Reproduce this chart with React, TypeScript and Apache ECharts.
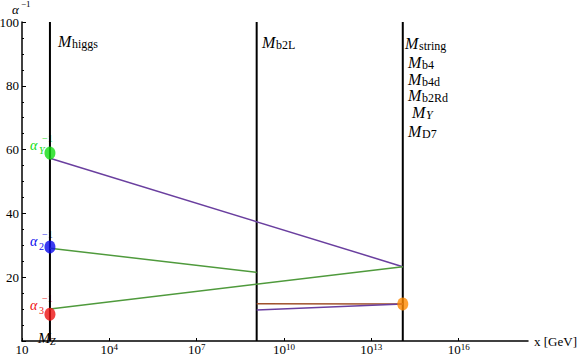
import React, { useEffect, useRef } from "react";
import * as echarts from "echarts";

// Energy scales (GeV) where vertical lines are drawn
const scaleLabels = ["higgs", "b2L", "string"];
const scaleEnergies = [91.2, 1.15e9, 1.2e14];

// x-axis range (GeV) and labelled decades (exponents)
const xMinGeV = 10;
const xMaxGeV = 2.4e18;
const xLabelExponents = [1, 4, 7, 10, 13, 16];

// Inverse couplings at the low scale (dots)
const lowScaleLabels = ["Y", "2", "3"];
const lowScaleValues = [58.9, 29.5, 8.4];
const lowScaleColors = ["#11dd11", "#0a0aee", "#ee1111"];

// Running lines
const alphaYEnergies = [91.2, 1.2e14];
const alphaYValues = [57.3, 23.3];
const alpha2Energies = [91.2, 1.15e9];
const alpha2Values = [29.1, 21.5];
const alpha3Energies = [91.2, 1.2e14];
const alpha3Values = [10.0, 23.3];
const brownEnergies = [1.15e9, 1.2e14];
const brownValues = [11.7, 11.6];
const lowPurpleEnergies = [1.15e9, 1.2e14];
const lowPurpleValues = [9.7, 11.6];

// String-scale coupling (orange dot)
const stringEnergy = 1.2e14;
const stringValue = 11.6;

// Right-hand stack of scale labels
const stackSubs = ["string", "b4", "b4d", "b2Rd", "Y", "D7"];

const FONT = "Liberation Serif, DejaVu Serif, serif";
const PURPLE = "#6a3f9f";
const GREEN = "#4f9a3c";
const BROWN = "#a0522d";
const ORANGE = "#ff8a00";

const lg = (e: number) => Math.log10(e);
const pair = (xs: number[], ys: number[]) => xs.map((x, i) => [lg(x), ys[i]]);

function mLabel(x: number, base: number, sub: string, subItalic = false, fill = "#000") {
  return {
    type: "group",
    x,
    y: 0,
    children: [
      {
        type: "text",
        x: 0,
        y: base - 4.8,
        style: { text: "M", fontFamily: FONT, fontStyle: "italic", fontSize: 16, fill, verticalAlign: "middle", align: "left" },
      },
      {
        type: "text",
        x: 14,
        y: base + 2 - 3.6,
        style: {
          text: sub,
          fontFamily: FONT,
          fontStyle: subItalic ? "italic" : "normal",
          fontSize: 12,
          fill,
          verticalAlign: "middle",
          align: "left",
        },
      },
    ],
  };
}

function alphaLabel(x: number, base: number, sub: string, color: string) {
  return {
    type: "group",
    x,
    y: 0,
    children: [
      {
        type: "text",
        x: 0,
        y: base - 4.2,
        style: { text: "α", fontFamily: FONT, fontStyle: "italic", fontSize: 14, fill: color, verticalAlign: "middle" },
      },
      {
        type: "text",
        x: 9,
        y: base + 3 - 2.7,
        style: { text: sub, fontFamily: FONT, fontStyle: sub === "Y" ? "italic" : "normal", fontSize: 10, fill: color, verticalAlign: "middle" },
      },
      {
        type: "text",
        x: 12,
        y: base - 9 - 2.7,
        style: { text: "−1", fontFamily: FONT, fontSize: 10, fill: color, verticalAlign: "middle" },
      },
    ],
  };
}

export default function App() {
  const ref = useRef<HTMLDivElement>(null);

  useEffect(() => {
    document.body.style.margin = "0";
    if (!ref.current) return;
    const chart = echarts.init(ref.current, null, { renderer: "svg" });

    const lineSeries = (xs: number[], ys: number[], color: string, width = 1.5) => ({
      type: "line",
      data: pair(xs, ys),
      showSymbol: false,
      symbol: "none",
      lineStyle: { color, width },
      z: 3,
    });

    const series: any[] = [];
    scaleEnergies.forEach((e) => {
      series.push({
        type: "line",
        data: [
          [lg(e), 0],
          [lg(e), 100],
        ],
        symbol: "none",
        lineStyle: { color: "#000", width: 2 },
        z: 2,
      });
    });
    series.push(lineSeries(alphaYEnergies, alphaYValues, PURPLE));
    series.push(lineSeries(alpha2Energies, alpha2Values, GREEN));
    series.push(lineSeries(alpha3Energies, alpha3Values, GREEN));
    series.push(lineSeries(brownEnergies, brownValues, BROWN));
    series.push(lineSeries(lowPurpleEnergies, lowPurpleValues, PURPLE));
    lowScaleValues.forEach((v, i) => {
      series.push({
        type: "scatter",
        data: [[lg(scaleEnergies[0]), v]],
        symbol: "circle",
        symbolSize: [11, 13],
        itemStyle: { color: lowScaleColors[i] },
        z: 5,
      });
    });
    series.push({
      type: "scatter",
      data: [[lg(stringEnergy), stringValue]],
      symbol: "circle",
      symbolSize: [11, 13],
      itemStyle: { color: ORANGE },
      z: 5,
    });

    const stackBases = [48, 67, 84, 100, 117, 136];
    const stackX = [405, 408, 408, 408, 412, 408];

    const graphics: any[] = [
      // y-axis name alpha^-1
      {
        type: "text",
        x: 12,
        y: 14 - 4.2,
        style: { text: "α", fontFamily: FONT, fontStyle: "italic", fontSize: 13, fill: "#000", verticalAlign: "middle" },
      },
      {
        type: "text",
        x: 21,
        y: 7 - 2.7,
        style: { text: "−1", fontFamily: FONT, fontSize: 9, fill: "#000", verticalAlign: "middle" },
      },
      // M_Z at the bottom
      {
        type: "text",
        x: 38,
        y: 342 - 4.5,
        z: -1,
        style: { text: "M", fontFamily: FONT, fontStyle: "italic", fontSize: 15, fill: "#000", verticalAlign: "middle" },
      },
      {
        type: "text",
        x: 50,
        y: 344 - 3,
        z: -1,
        style: { text: "Z", fontFamily: FONT, fontStyle: "italic", fontSize: 10, fill: "#000", verticalAlign: "middle" },
      },
      mLabel(58, 46, scaleLabels[0]),
      mLabel(262, 47, scaleLabels[1]),
      ...stackSubs.map((s, i) => mLabel(stackX[i], stackBases[i], s, s === "Y")),
      alphaLabel(30, 150, lowScaleLabels[0], lowScaleColors[0]),
      alphaLabel(30, 246, lowScaleLabels[1], lowScaleColors[1]),
      alphaLabel(30, 310, lowScaleLabels[2], lowScaleColors[2]),
    ];

    chart.setOption({
      animation: false,
      textStyle: { fontFamily: FONT },
      grid: { left: 22, right: 53, top: 22, bottom: 19, containLabel: false, outerBoundsMode: "none" },
      xAxis: {
        type: "value",
        min: lg(xMinGeV),
        max: lg(xMaxGeV),
        interval: 3,
        name: "x [GeV]",
        nameLocation: "end",
        nameGap: 6,
        nameTextStyle: { fontFamily: FONT, fontSize: 13, color: "#000", verticalAlign: "middle" },
        axisLine: { lineStyle: { color: "#000", width: 1.5 } },
        axisTick: { show: true, inside: true, length: 3, lineStyle: { color: "#000" } },
        splitLine: { show: false },
        axisLabel: {
          margin: 1,
          showMaxLabel: false,
          color: "#000",
          fontFamily: FONT,
          formatter: (v: number) => {
            const e = Math.round(v);
            if (Math.abs(v - e) > 1e-6 || !xLabelExponents.includes(e)) return "";
            if (e === 1) return "{b|10}";
            return "{b|10}{s|" + e + "}";
          },
          rich: {
            b: { fontFamily: FONT, fontSize: 13, color: "#000", padding: [4, 0, 0, 0], lineHeight: 14, verticalAlign: "bottom" },
            s: { fontFamily: FONT, fontSize: 9, color: "#000", lineHeight: 10, verticalAlign: "top" },
          },
        },
      },
      yAxis: {
        type: "value",
        min: 0,
        max: 100,
        interval: 20,
        axisLine: { show: true, lineStyle: { color: "#000", width: 1.5 } },
        axisTick: { show: true, inside: true, length: 4, lineStyle: { color: "#000" } },
        minorTick: { show: true, splitNumber: 4, length: 2, lineStyle: { color: "#000" } },
        splitLine: { show: false },
        axisLabel: {
          showMinLabel: false,
          margin: 3,
          color: "#000",
          fontFamily: FONT,
          fontSize: 13,
        },
      },
      series,
      graphic: graphics,
    });

    return () => chart.dispose();
  }, []);

  return <div ref={ref} style={{ width: 581, height: 360 }} />;
}
